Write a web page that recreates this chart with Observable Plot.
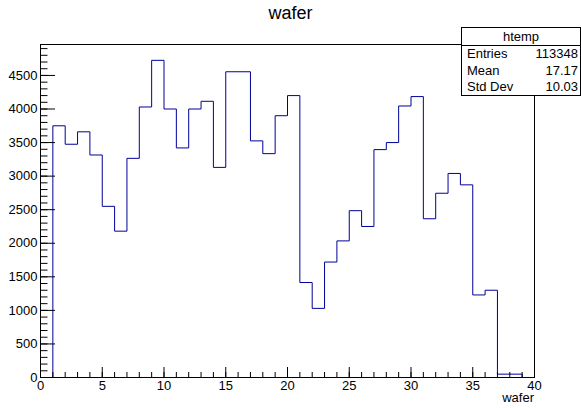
<!DOCTYPE html>
<html>
<head>
<meta charset="utf-8">
<script src="https://cdn.jsdelivr.net/npm/d3@7"></script>
<script src="https://cdn.jsdelivr.net/npm/@observablehq/plot@0.6"></script>
<style>
  html, body { margin: 0; padding: 0; background: #fff; }
  #wrap { position: relative; width: 581px; height: 408px; font-family: "Liberation Sans", Helvetica, Arial, sans-serif; color: #000; }
  #wrap svg { position: absolute; left: 0; top: 0; }
  .abs { position: absolute; white-space: nowrap; }
  #title { left: 0; width: 581px; top: 3px; text-align: center; font-size: 18px; }
  #xtitle { right: 47px; top: 390px; font-size: 13px; }
  #stats { left: 461px; top: 27px; width: 118px; height: 67px; border: 1px solid #000; background: #fff; font-size: 13px; }
  #stats .hdr { height: 17px; line-height: 17px; text-align: center; border-bottom: 1px solid #000; }
  #stats .row { height: 16.5px; line-height: 16.5px; display: flex; justify-content: space-between; padding: 0 2px 0 5px; }
</style>
</head>
<body>
<div id="wrap"></div>
<script>
// Histogram "wafer": 40 bins of width 1 from 0 to 40
const binEdges = d3.range(0, 40);
const counts = [
  0, 3750, 3475, 3660, 3315, 2550, 2180, 3265, 4030, 4725,
  4000, 3420, 4000, 4115, 3130, 4555, 4555, 3525, 3335, 3900,
  4200, 1415, 1030, 1720, 2035, 2485, 2250, 3395, 3500, 4045,
  4185, 2365, 2745, 3040, 2870, 1230, 1300, 50, 50, 0
];
const xMajorTicks = [0, 5, 10, 15, 20, 25, 30, 35, 40];
const xMinorTicks = d3.range(0, 41, 1);
const yMajorTicks = [0, 500, 1000, 1500, 2000, 2500, 3000, 3500, 4000, 4500];
const yMinorTicks = d3.range(0, 4901, 100);
const histTitle = "wafer";
const statsName = "htemp";
const statsRows = [["Entries", "113348"], ["Mean", "17.17"], ["Std Dev", "10.03"]];

// step points: each bin's left edge with its count, plus closing right edge
const stepData = binEdges.map((x, i) => ({x, y: counts[i]}));
stepData.push({x: 40, y: counts[counts.length - 1]});

const fmt = d => String(d);
const chart = Plot.plot({
  width: 581,
  height: 408,
  marginLeft: 40,
  marginRight: 47,
  marginTop: 44,
  marginBottom: 31,
  style: {fontFamily: '"Liberation Sans", Helvetica, Arial, sans-serif', fontSize: "13px", background: "transparent"},
  x: {domain: [0, 40]},
  y: {domain: [0, 4961]},
  marks: [
    Plot.line(stepData, {x: "x", y: "y", curve: "step-after", stroke: "#000099", strokeWidth: 1}),
    Plot.frame({stroke: "#000"}),
    Plot.axisY({ticks: yMajorTicks, tickSize: -15, text: null, label: null, stroke: "#000"}),
    Plot.axisY({ticks: yMinorTicks, tickSize: -7.5, text: null, label: null, stroke: "#000"}),
    Plot.axisY({ticks: yMajorTicks, tickSize: 0, tickPadding: 3, tickFormat: fmt, label: null, fontSize: 13, fill: "#000"}),
    Plot.axisX({ticks: xMajorTicks, tickSize: -10, text: null, label: null, stroke: "#000"}),
    Plot.axisX({ticks: xMinorTicks, tickSize: -5, text: null, label: null, stroke: "#000"}),
    Plot.axisX({ticks: xMajorTicks, tickSize: 0, tickPadding: 3, tickFormat: fmt, label: null, fontSize: 13, fill: "#000"})
  ]
});

const wrap = document.getElementById("wrap");
wrap.appendChild(chart);

const t = document.createElement("div");
t.className = "abs"; t.id = "title"; t.textContent = histTitle;
wrap.appendChild(t);

const xt = document.createElement("div");
xt.className = "abs"; xt.id = "xtitle"; xt.textContent = "wafer";
wrap.appendChild(xt);

const box = document.createElement("div");
box.className = "abs"; box.id = "stats";
const hdr = document.createElement("div");
hdr.className = "hdr"; hdr.textContent = statsName;
box.appendChild(hdr);
for (const [k, v] of statsRows) {
  const r = document.createElement("div");
  r.className = "row";
  const a = document.createElement("span"); a.textContent = k;
  const b = document.createElement("span"); b.textContent = v;
  r.appendChild(a); r.appendChild(b);
  box.appendChild(r);
}
wrap.appendChild(box);
</script>
</body>
</html>
